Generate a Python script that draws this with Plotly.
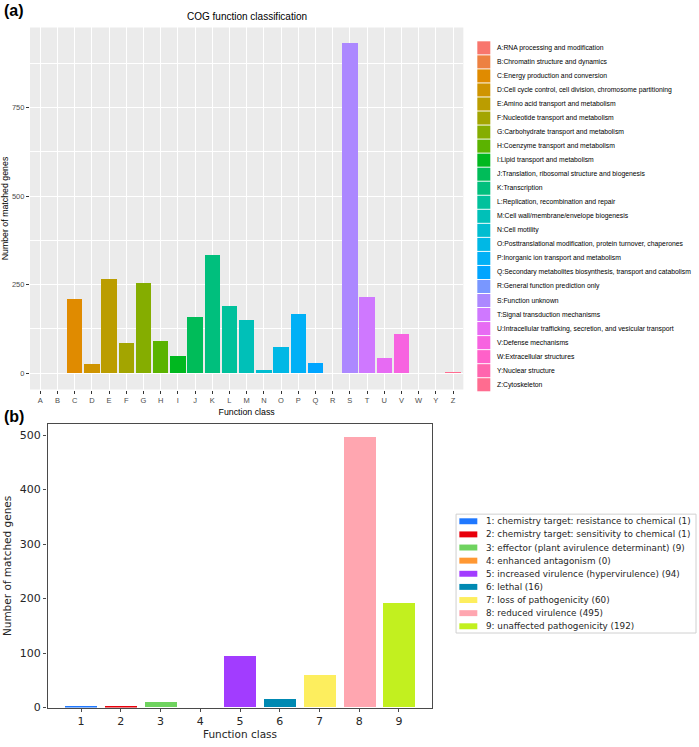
import math
import plotly.graph_objects as go

W, H = 699, 747

# ---------------- data ----------------
cog_letters = ["A", "B", "C", "D", "E", "F", "G", "H", "I", "J", "K", "L", "M",
               "N", "O", "P", "Q", "R", "S", "T", "U", "V", "W", "Y", "Z"]
cog_names = [
    "RNA processing and modification",
    "Chromatin structure and dynamics",
    "Energy production and conversion",
    "Cell cycle control, cell division, chromosome partitioning",
    "Amino acid transport and metabolism",
    "Nucleotide transport and metabolism",
    "Carbohydrate transport and metabolism",
    "Coenzyme transport and metabolism",
    "Lipid transport and metabolism",
    "Translation, ribosomal structure and biogenesis",
    "Transcription",
    "Replication, recombination and repair",
    "Cell wall/membrane/envelope biogenesis",
    "Cell motility",
    "Posttranslational modification, protein turnover, chaperones",
    "Inorganic ion transport and metabolism",
    "Secondary metabolites biosynthesis, transport and catabolism",
    "General function prediction only",
    "Function unknown",
    "Signal transduction mechanisms",
    "Intracellular trafficking, secretion, and vesicular transport",
    "Defense mechanisms",
    "Extracellular structures",
    "Nuclear structure",
    "Cytoskeleton",
]
cog_counts = [0, 0, 207, 25, 265, 85, 254, 90, 46, 157, 333, 188, 149,
              8, 74, 166, 27, 0, 930, 215, 42, 109, 0, 0, 2]
cog_yticks = [0, 250, 500, 750]

phi_classes = [1, 2, 3, 4, 5, 6, 7, 8, 9]
phi_names = [
    "chemistry target: resistance to chemical",
    "chemistry target: sensitivity to chemical",
    "effector (plant avirulence determinant)",
    "enhanced antagonism",
    "increased virulence (hypervirulence)",
    "lethal",
    "loss of pathogenicity",
    "reduced virulence",
    "unaffected pathogenicity",
]
phi_counts = [1, 1, 9, 0, 94, 16, 60, 495, 192]
phi_colors = ["#1f78ff", "#e8000b", "#6fd35f", "#ff9833", "#a23cff",
              "#0089b2", "#fdee5e", "#ffa6b0", "#c2f01f"]
phi_yticks = [0, 100, 200, 300, 400, 500]


# ---------------- ggplot hue palette ----------------
def hcl_hex(h, c=100.0, l=65.0):
    Xn, Yn, Zn = 95.047, 100.0, 108.883
    hr = math.radians(h)
    U = c * math.cos(hr)
    V = c * math.sin(hr)
    Y = Yn * ((l + 16) / 116) ** 3
    t = Xn + 15 * Yn + 3 * Zn
    un = 4 * Xn / t
    vn = 9 * Yn / t
    Q = U / (13 * l) + un
    R = V / (13 * l) + vn
    X = 9.0 * Y * Q / (4.0 * R)
    Z = -X / 3.0 - 5.0 * Y + 3.0 * Y / R
    x, y, z = X / 100, Y / 100, Z / 100
    rgb = [3.240479 * x - 1.537150 * y - 0.498535 * z,
           -0.969256 * x + 1.875992 * y + 0.041556 * z,
           0.055648 * x - 0.204043 * y + 1.057311 * z]
    out = []
    for u in rgb:
        u = 1.055 * u ** (1 / 2.4) - 0.055 if u > 0.00304 else 12.92 * u
        u = min(max(u, 0.0), 1.0)
        out.append(int(round(u * 255)))
    return "#%02X%02X%02X" % tuple(out)


n = len(cog_letters)
cog_colors = [hcl_hex(15 + 360.0 * i / n) for i in range(n)]


def px(x):
    return x / W


def py(y):
    return 1 - y / H


fig = go.Figure()

# ---------------- panel (a) ----------------
fig.add_trace(go.Bar(
    x=cog_letters, y=cog_counts, marker=dict(color=cog_colors, line=dict(width=0)),
    width=0.9, xaxis="x", yaxis="y", showlegend=False,
))

# ---------------- panel (b) ----------------
fig.add_trace(go.Bar(
    x=phi_classes, y=phi_counts, marker=dict(color=phi_colors, line=dict(width=0)),
    width=0.8, xaxis="x2", yaxis="y2", showlegend=False,
))

ymax_a = max(cog_counts)
ymax_b = max(phi_counts)

fig.update_layout(
    width=W, height=H,
    margin=dict(l=0, r=0, t=0, b=0),
    paper_bgcolor="white",
    plot_bgcolor="white",
    bargap=0,
    xaxis=dict(
        domain=[px(29), px(463)], anchor="y",
        type="category", categoryorder="array", categoryarray=cog_letters,
        range=[-0.6, n - 0.4],
        showgrid=True, gridcolor="white", gridwidth=1.1,
        ticks="outside", ticklen=3, tickwidth=1, tickcolor="#333333",
        tickfont=dict(family="Liberation Sans", size=7.5, color="#4D4D4D"),
        showline=False, zeroline=False,
        title=dict(text="Function class", standoff=5,
                   font=dict(family="Liberation Sans", size=8.8, color="black")),
    ),
    yaxis=dict(
        domain=[py(393.3), py(27.7)], anchor="x",
        range=[-0.05 * ymax_a, 1.05 * ymax_a],
        tickvals=cog_yticks, ticktext=[str(v) for v in cog_yticks],
        showgrid=True, gridcolor="white", gridwidth=1.1,
        minor=dict(tickvals=[125, 375, 625, 875], showgrid=True,
                   gridcolor="white", gridwidth=0.5, ticks=""),
        ticks="outside", ticklen=3, tickwidth=1, tickcolor="#333333",
        tickfont=dict(family="Liberation Sans", size=7.5, color="#4D4D4D"),
        showline=False, zeroline=False,
        title=dict(text="Number of matched genes", standoff=6,
                   font=dict(family="Liberation Sans", size=8.8, color="black")),
    ),
    xaxis2=dict(
        domain=[px(46.7), px(432)], anchor="y2",
        range=[0.16, 9.84],
        tickvals=phi_classes, ticktext=[str(v) for v in phi_classes],
        showgrid=False, zeroline=False,
        showline=True, linecolor="#4a4a4a", linewidth=1.3, mirror=True,
        ticks="outside", ticklen=3.5, tickwidth=1, tickcolor="#4a4a4a",
        tickfont=dict(family="DejaVu Sans", size=11, color="#262626"),
        title=dict(text="Function class", standoff=3,
                   font=dict(family="DejaVu Sans", size=10.5, color="#262626")),
    ),
    yaxis2=dict(
        domain=[py(714.3), py(428.3)], anchor="x2",
        range=[0, 1.05 * ymax_b],
        tickvals=phi_yticks, ticktext=[str(v) for v in phi_yticks],
        showgrid=False, zeroline=False,
        showline=True, linecolor="#4a4a4a", linewidth=1.3, mirror=True,
        ticks="outside", ticklen=3.5, tickwidth=1, tickcolor="#4a4a4a",
        tickfont=dict(family="DejaVu Sans", size=11, color="#262626"),
        title=dict(text="Number of matched genes", standoff=6,
                   font=dict(family="DejaVu Sans", size=10.5, color="#262626")),
    ),
)

# panel (a) grey background
shapes = [dict(type="rect", xref="paper", yref="paper", layer="below",
               x0=px(29), x1=px(463), y0=py(393.3), y1=py(27.7),
               fillcolor="#EBEBEB", line=dict(width=0))]
annotations = []

# panel labels and title
annotations.append(dict(text="<b>(a)</b>", x=px(1), y=py(11), xref="paper", yref="paper",
                        xanchor="left", yanchor="middle", showarrow=False,
                        font=dict(family="Liberation Sans", size=16, color="black")))
annotations.append(dict(text="<b>(b)</b>", x=px(1), y=py(420), xref="paper", yref="paper",
                        xanchor="left", yanchor="middle", showarrow=False,
                        font=dict(family="Liberation Sans", size=16, color="black")))
annotations.append(dict(text="COG function classification", x=px(246), y=py(17),
                        xref="paper", yref="paper", xanchor="center", yanchor="middle",
                        showarrow=False,
                        font=dict(family="Liberation Sans", size=10, color="black")))

# legend (a)
leg_a_y0, leg_a_step = 48.3, 14.17
for i, (lab, name, col) in enumerate(zip(cog_letters, cog_names, cog_colors)):
    yc = leg_a_y0 + i * leg_a_step
    shapes.append(dict(type="rect", xref="paper", yref="paper",
                       x0=px(477), x1=px(490), y0=py(yc + 6.6), y1=py(yc - 6.6),
                       fillcolor=col, line=dict(width=0)))
    annotations.append(dict(text=f"{lab}:{name}", x=px(495), y=py(yc),
                            xref="paper", yref="paper", xanchor="left", yanchor="middle",
                            showarrow=False,
                            font=dict(family="Liberation Sans", size=6.8, color="black")))

# legend (b)
shapes.append(dict(type="rect", xref="paper", yref="paper",
                   x0=px(455.7), x1=px(696), y0=py(639), y1=py(519),
                   fillcolor="rgba(255,255,255,0.8)", line=dict(color="#d0d0d0", width=1)))
leg_b_y0, leg_b_step = 526.2, 13.25
for i, (cls, name, cnt, col) in enumerate(zip(phi_classes, phi_names, phi_counts, phi_colors)):
    yc = leg_b_y0 + i * leg_b_step
    shapes.append(dict(type="rect", xref="paper", yref="paper",
                       x0=px(459), x1=px(477), y0=py(yc + 3), y1=py(yc - 3),
                       fillcolor=col, line=dict(width=0)))
    annotations.append(dict(text=f"{cls}: {name} ({cnt})", x=px(483.5), y=py(yc),
                            xref="paper", yref="paper", xanchor="left", yanchor="middle",
                            showarrow=False,
                            font=dict(family="DejaVu Sans", size=8.8, color="#262626")))

fig.update_layout(shapes=shapes, annotations=annotations)

fig.write_html("out.html")
